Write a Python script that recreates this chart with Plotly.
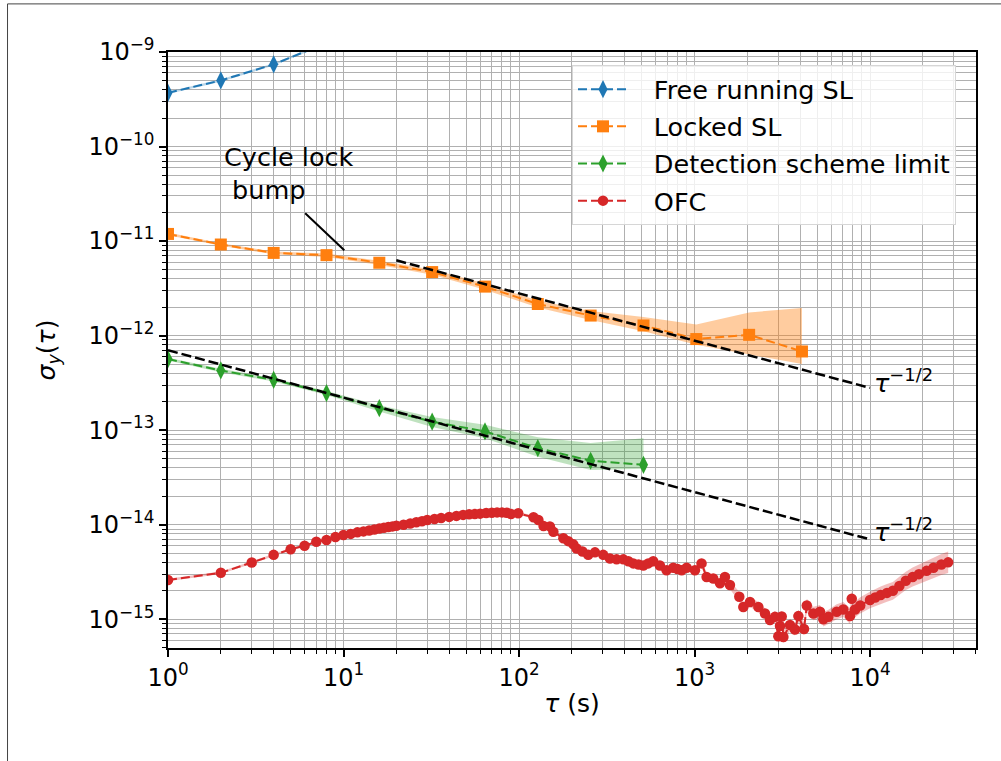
import plotly.graph_objects as go

# ---------------- data ----------------
free_tau = [1, 2, 4, 8, 16]
free_sigma = [3.7e-10, 5.0e-10, 7.4e-10, 1.25e-9, 2.0e-9]
free_hi = [3.8e-10, 5.15e-10, 7.6e-10, 1.29e-9, 2.06e-9]
free_lo = [3.6e-10, 4.85e-10, 7.2e-10, 1.21e-9, 1.94e-9]

lock_tau = [1, 2, 4, 8, 16, 32, 64, 128, 256, 512, 1024, 2048, 4096]
lock_sigma = [1.19e-11, 9.2e-12, 7.5e-12, 7.1e-12, 5.9e-12, 4.7e-12, 3.3e-12,
              2.16e-12, 1.63e-12, 1.28e-12, 9.2e-13, 1.02e-12, 6.8e-13]
lock_hi = [1.23e-11, 9.5e-12, 7.75e-12, 7.4e-12, 6.2e-12, 5.0e-12, 3.55e-12,
           2.35e-12, 1.82e-12, 1.57e-12, 1.31e-12, 1.76e-12, 1.96e-12]
lock_lo = [1.15e-11, 8.9e-12, 7.25e-12, 6.8e-12, 5.6e-12, 4.4e-12, 3.05e-12,
           1.98e-12, 1.46e-12, 1.11e-12, 8.0e-13, 6.3e-13, 5.0e-13]

det_tau = [1, 2, 4, 8, 16, 32, 64, 128, 256, 512]
det_sigma = [5.65e-13, 4.28e-13, 3.41e-13, 2.47e-13, 1.71e-13, 1.23e-13,
             9.7e-14, 6.45e-14, 4.75e-14, 4.3e-14]
det_hi = [5.85e-13, 4.45e-13, 3.55e-13, 2.6e-13, 1.84e-13, 1.38e-13,
          1.14e-13, 8.4e-14, 7.3e-14, 8.2e-14]
det_lo = [5.45e-13, 4.1e-13, 3.27e-13, 2.35e-13, 1.58e-13, 1.08e-13,
          8.2e-14, 5.25e-14, 3.8e-14, 3.9e-14]

ofc_tau = [1, 2, 3, 4, 5, 6, 7, 8, 9, 10,
           11, 12, 13, 14, 15, 16, 17, 18, 19, 20, 22, 24, 26, 28, 30,
           33, 36, 40, 44, 48, 52, 56, 60, 65, 70, 75, 80, 85, 90, 99,
           121, 129, 138, 150, 157, 179, 191, 204, 213, 230, 248, 271, 302,
           330, 360, 393, 420, 448, 480, 511, 545, 582, 635, 693, 757, 800,
           845, 902, 1006, 1097, 1172, 1279, 1397, 1491, 1592, 1800, 1897,
           2071, 2311, 2522, 2692, 2875, 3004, 3070, 3141, 3210, 3500, 3737,
           3907, 4209, 4363, 4757, 5190, 5421, 5794, 6460, 7048, 7700, 7871,
           8220, 8800, 10000, 10700, 11500, 12500, 13500, 14700, 16000,
           17500, 19000, 21000, 23000, 25500, 27900]
ofc_sigma = [2.6e-15, 3.1e-15, 3.98e-15, 4.8e-15, 5.5e-15, 6.0e-15, 6.6e-15, 6.9e-15, 7.4e-15, 7.8e-15,
             8.0e-15, 8.3e-15, 8.5e-15, 8.7e-15, 8.9e-15, 9.1e-15, 9.3e-15, 9.45e-15, 9.6e-15, 9.75e-15,
             1.0e-14, 1.03e-14, 1.06e-14, 1.09e-14, 1.12e-14,
             1.15e-14, 1.18e-14, 1.21e-14, 1.24e-14, 1.27e-14, 1.29e-14, 1.30e-14, 1.31e-14, 1.33e-14,
             1.34e-14, 1.35e-14, 1.35e-14, 1.34e-14, 1.30e-14, 1.32e-14,
             1.20e-14, 1.12e-14, 9.7e-15, 9.6e-15, 8.4e-15, 7.2e-15, 6.7e-15, 6.2e-15, 5.6e-15, 5.2e-15,
             4.8e-15, 5.1e-15, 4.8e-15,
             4.4e-15, 4.3e-15, 4.3e-15, 4.1e-15, 3.9e-15, 3.8e-15, 3.7e-15, 3.9e-15, 4.1e-15, 3.7e-15,
             3.3e-15, 3.5e-15, 3.4e-15,
             3.3e-15, 3.5e-15, 3.3e-15, 3.9e-15, 2.8e-15, 2.7e-15, 2.4e-15, 2.8e-15, 2.3e-15, 1.73e-15,
             1.35e-15,
             1.52e-15, 1.35e-15, 1.15e-15, 0.98e-15, 1.06e-15, 6.6e-16, 8.5e-16, 1.07e-15, 6.5e-16,
             8.7e-16, 7.8e-16,
             1.08e-15, 7.9e-16, 1.4e-15, 1.15e-15, 1.2e-15, 1.0e-15, 1.06e-15, 1.2e-15, 1.27e-15,
             1.08e-15, 1.65e-15,
             1.27e-15, 1.4e-15, 1.6e-15, 1.7e-15, 1.8e-15, 1.9e-15, 2.0e-15, 2.25e-15, 2.55e-15,
             2.8e-15, 3.0e-15, 3.25e-15, 3.5e-15, 3.8e-15, 4.0e-15]
ofc_err = [0.03, 0.03, 0.03, 0.03, 0.03, 0.03, 0.03, 0.03, 0.03, 0.03,
           0.03, 0.03, 0.03, 0.03, 0.03, 0.03, 0.03, 0.03, 0.03, 0.03,
           0.03, 0.03, 0.03, 0.03, 0.03,
           0.03, 0.03, 0.03, 0.03, 0.03, 0.03, 0.03, 0.03, 0.03,
           0.03, 0.03, 0.03, 0.03, 0.03, 0.03,
           0.04, 0.04, 0.04, 0.04, 0.04, 0.04, 0.04, 0.04, 0.04, 0.04,
           0.05, 0.05, 0.05,
           0.05, 0.05, 0.05, 0.06, 0.06, 0.06, 0.06, 0.06, 0.07, 0.07,
           0.07, 0.07, 0.08,
           0.08, 0.08, 0.09, 0.09, 0.10, 0.10, 0.10, 0.11, 0.11, 0.12,
           0.12,
           0.13, 0.13, 0.14, 0.14, 0.15, 0.15, 0.15, 0.15, 0.16,
           0.16, 0.16,
           0.17, 0.17, 0.18, 0.18, 0.18, 0.19, 0.19, 0.20, 0.20,
           0.21, 0.21,
           0.21, 0.22, 0.22, 0.23, 0.23, 0.24, 0.24, 0.25, 0.25,
           0.26, 0.27, 0.28, 0.28, 0.29, 0.30]

fit1_tau = [20, 10000]
fit1_sigma = [6.26e-12, 2.8e-13]
fit2_tau = [1, 10000]
fit2_sigma = [7.0e-13, 7.0e-15]

x_tickvals = [1, 10, 100, 1000, 10000]
x_ticktext = ["10<sup>0</sup>", "10<sup>1</sup>", "10<sup>2</sup>", "10<sup>3</sup>", "10<sup>4</sup>"]
y_tickvals = [1e-15, 1e-14, 1e-13, 1e-12, 1e-11, 1e-10, 1e-9]
y_ticktext = ["10<sup>−15</sup>", "10<sup>−14</sup>", "10<sup>−13</sup>", "10<sup>−12</sup>",
              "10<sup>−11</sup>", "10<sup>−10</sup>", "10<sup>−9</sup>"]

# ---------------- figure ----------------
C_BLUE, C_ORANGE, C_GREEN, C_RED = "#1f77b4", "#ff7f0e", "#2ca02c", "#d62728"
FONT = "DejaVu Sans"
fig = go.Figure()


def band(tau, lo, hi, rgba):
    fig.add_trace(go.Scatter(x=tau, y=lo, mode="lines", line=dict(width=0),
                             showlegend=False, hoverinfo="skip"))
    fig.add_trace(go.Scatter(x=tau, y=hi, mode="lines", line=dict(width=0),
                             fill="tonexty", fillcolor=rgba, showlegend=False,
                             hoverinfo="skip"))


band(free_tau, free_lo, free_hi, "rgba(31,119,180,0.3)")
band(lock_tau, lock_lo, lock_hi, "rgba(255,127,14,0.4)")
band(det_tau, det_lo, det_hi, "rgba(44,160,44,0.3)")
ofc_hi = [s * (1 + e) for s, e in zip(ofc_sigma, ofc_err)]
ofc_lo = [s / (1 + e) for s, e in zip(ofc_sigma, ofc_err)]
band(ofc_tau, ofc_lo, ofc_hi, "rgba(214,39,40,0.3)")

DASH = "9px,4px"
SP = "\u2002\u00a0"
fig.add_trace(go.Scatter(x=free_tau, y=free_sigma, mode="lines+markers",
                         name=SP + "Free running SL", legendgroup="a",
                         line=dict(color=C_BLUE, width=2, dash=DASH),
                         marker=dict(symbol="diamond-tall", size=13, color=C_BLUE)))
fig.add_trace(go.Scatter(x=lock_tau, y=lock_sigma, mode="lines+markers",
                         name=SP + "Locked SL", legendgroup="b",
                         line=dict(color=C_ORANGE, width=2, dash=DASH),
                         marker=dict(symbol="square", size=12, color=C_ORANGE)))
fig.add_trace(go.Scatter(x=det_tau, y=det_sigma, mode="lines+markers",
                         name=SP + "Detection scheme limit", legendgroup="c",
                         line=dict(color=C_GREEN, width=2, dash=DASH),
                         marker=dict(symbol="diamond-tall", size=13, color=C_GREEN)))
fig.add_trace(go.Scatter(x=ofc_tau, y=ofc_sigma, mode="lines+markers",
                         name=SP + "OFC", legendgroup="d",
                         line=dict(color=C_RED, width=2, dash=DASH),
                         marker=dict(symbol="circle", size=10.5, color=C_RED)))

for t, s in ((fit1_tau, fit1_sigma), (fit2_tau, fit2_sigma)):
    fig.add_trace(go.Scatter(x=t, y=s, mode="lines", showlegend=False,
                             line=dict(color="black", width=2.5, dash="10px,4px"),
                             hoverinfo="skip"))

GRID = "#b0b0b0"
axis_common = dict(type="log", showline=True, linecolor="black", linewidth=1.5,
                   mirror=True, ticks="outside", ticklen=7, tickwidth=1.5,
                   tickcolor="black", showgrid=True, gridcolor=GRID, gridwidth=1,
                   zeroline=False, automargin=False,
                   tickfont=dict(family=FONT, size=24, color="black"))

minor_x = [m * 10 ** e for e in range(0, 5) for m in range(2, 10)]
minor_y = [m * 10.0 ** e for e in range(-16, -9) for m in range(2, 10)]

fig.update_xaxes(**axis_common, range=[0, 4.604], tickmode="array",
                 tickvals=x_tickvals, ticktext=x_ticktext,
                 minor=dict(tickmode="array", tickvals=minor_x, ticks="outside",
                            ticklen=4, tickwidth=1, tickcolor="black",
                            showgrid=True, gridcolor=GRID, gridwidth=1),
                 title=dict(text="<i>τ</i> (s)", font=dict(family=FONT, size=25, color="black"),
                            standoff=4))
fig.update_yaxes(**axis_common, range=[-15.304, -9.0], tickmode="array",
                 tickvals=y_tickvals, ticktext=y_ticktext,
                 minor=dict(tickmode="array", tickvals=minor_y, ticks="outside",
                            ticklen=4, tickwidth=1, tickcolor="black",
                            showgrid=True, gridcolor=GRID, gridwidth=1),
                 title=dict(text="<i>σ<sub>y</sub></i>(<i>τ</i>)",
                            font=dict(family=FONT, size=25, color="black"),
                            standoff=26))

ANN = dict(family=FONT, size=25.5, color="black")
fig.add_annotation(x=0.308, y=-10.284, xref="x", yref="y", text="Cycle lock<br> bump",
                   showarrow=False, xanchor="left", yanchor="middle", align="left",
                   font=ANN)
fig.add_annotation(x=1.0046, y=-11.096, xref="x", yref="y", text="",
                   showarrow=True, arrowhead=0, arrowwidth=2, arrowcolor="black",
                   ax=-40.6, ay=-38.4, standoff=0, startstandoff=0)
fig.add_annotation(x=4.01, y=-12.48, xref="x", yref="y", text="<i>τ</i><sup>−1/2</sup>",
                   showarrow=False, xanchor="left", yanchor="middle", font=ANN)
fig.add_annotation(x=4.01, y=-14.06, xref="x", yref="y", text="<i>τ</i><sup>−1/2</sup>",
                   showarrow=False, xanchor="left", yanchor="middle", font=ANN)

# figure frame (left and top edges visible)
fig.add_shape(type="line", xref="paper", yref="paper", x0=-0.1986, x1=-0.1986,
              y0=1.0807, y1=-0.2, line=dict(color="#444444", width=1))
fig.add_shape(type="line", xref="paper", yref="paper", x0=-0.1986, x1=1.04,
              y0=1.0807, y1=1.0807, line=dict(color="#444444", width=1))

fig.update_layout(
    width=1001, height=761,
    margin=dict(l=168, r=25, t=52, b=113),
    paper_bgcolor="white", plot_bgcolor="white",
    font=dict(family=FONT, color="black"),
    legend=dict(x=0.5, y=0.978, xanchor="left", yanchor="top",
                bgcolor="rgba(255,255,255,0.8)", bordercolor="#d6d6d6", borderwidth=1,
                font=dict(family=FONT, size=25.5, color="black"),
                itemwidth=50, tracegroupgap=1, traceorder="grouped"),
    showlegend=True,
)

fig.write_html("out.html", config={"displayModeBar": False},
               post_script="document.body.style.margin='0px';")
